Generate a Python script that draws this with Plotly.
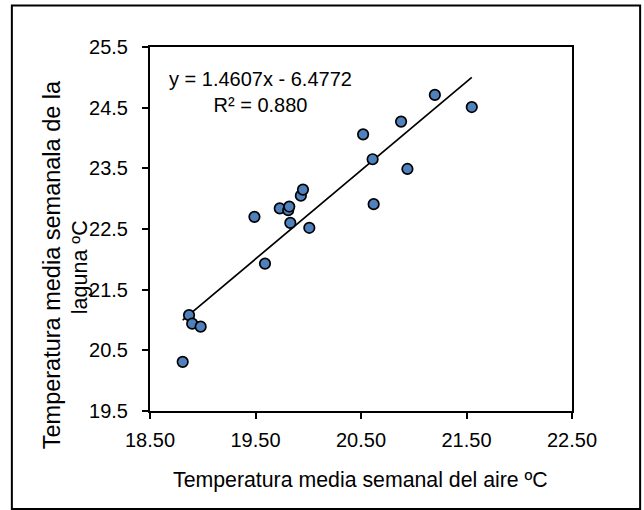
import plotly.graph_objects as go

# Data
air_temp = [18.81, 18.87, 18.90, 18.98, 19.59, 19.49, 19.73, 19.81, 19.82, 19.83,
            19.93, 19.95, 20.01, 20.52, 20.61, 20.62, 20.88, 21.20, 21.55, 20.94]
lagoon_temp = [20.31, 21.08, 20.94, 20.89, 21.93, 22.70, 22.84, 22.81, 22.87, 22.60,
               23.05, 23.15, 22.52, 24.06, 23.65, 22.91, 24.27, 24.71, 24.51, 23.49]
slope = 1.4607
intercept = -6.4772
r2_text = "R² = 0.880"
x_tickvals = [18.5, 19.5, 20.5, 21.5, 22.5]
x_ticktext = ["18.50", "19.50", "20.50", "21.50", "22.50"]
y_tickvals = [19.5, 20.5, 21.5, 22.5, 23.5, 24.5, 25.5]
y_ticktext = ["19.5", "20.5", "21.5", "22.5", "23.5", "24.5", "25.5"]

FONT = "Arial, Liberation Sans, sans-serif"
FS = 20

xmin, xmax = min(air_temp), max(air_temp)
trend_x = [xmin, xmax]
trend_y = [slope * v + intercept for v in trend_x]

fig = go.Figure()
fig.add_trace(go.Scatter(x=trend_x, y=trend_y, mode="lines",
                         line=dict(color="black", width=1.7), showlegend=False,
                         hoverinfo="skip"))
fig.add_trace(go.Scatter(x=air_temp, y=lagoon_temp, mode="markers",
                         marker=dict(size=10.5, color="#4F81BD",
                                     line=dict(color="black", width=1.7)),
                         showlegend=False))

W, H = 644, 510
L, R, T, B = 150, 572.5, 47.1, 410.7
pw, ph = R - L, B - T

def px_to_paper_x(px):
    return (px - L) / pw

def px_to_paper_y(py):
    return (B - py) / ph

axis_common = dict(showgrid=False, zeroline=False, showline=True, linecolor="black",
                   linewidth=2, mirror=True, ticks="outside", ticklen=6,
                   tickwidth=1.5, tickcolor="black", tickfont=dict(size=FS))

fig.update_layout(
    width=W, height=H,
    margin=dict(l=L, r=W - R, t=T, b=H - B, pad=0),
    paper_bgcolor="white", plot_bgcolor="white",
    font=dict(family=FONT, size=FS, color="black"),
    xaxis=dict(range=[18.5, 22.5], tickvals=x_tickvals, ticktext=x_ticktext,
               ticklabelstandoff=4, **axis_common),
    yaxis=dict(range=[19.5, 25.5], tickvals=y_tickvals, ticktext=y_ticktext,
               ticklabelstandoff=10, **axis_common),
    shapes=[dict(type="rect", xref="paper", yref="paper",
                 x0=px_to_paper_x(11.7), x1=px_to_paper_x(640.7),
                 y0=px_to_paper_y(508.5), y1=px_to_paper_y(5.7),
                 line=dict(color="black", width=2), fillcolor="rgba(0,0,0,0)")],
    annotations=[
        dict(text=f"y = {slope}x - {abs(intercept)}<br>{r2_text}", xref="paper", yref="paper",
             x=px_to_paper_x(261), y=px_to_paper_y(92), xanchor="center", yanchor="middle",
             showarrow=False, align="center", font=dict(size=FS)),
        dict(text="Temperatura media semanal del aire ºC", xref="paper", yref="paper",
             x=px_to_paper_x(550), y=px_to_paper_y(480), xanchor="right", yanchor="middle",
             showarrow=False, font=dict(size=21.3)),
        dict(text="Temperatura media semanala de la", xref="paper", yref="paper",
             x=px_to_paper_x(52), y=px_to_paper_y(265), xanchor="center", yanchor="middle",
             textangle=-90, showarrow=False, font=dict(size=23.5)),
        dict(text="laguna ºC", xref="paper", yref="paper",
             x=px_to_paper_x(80), y=px_to_paper_y(267), xanchor="center", yanchor="middle",
             textangle=-90, showarrow=False, font=dict(size=21.5)),
    ],
)

fig.write_html("out.html", config={"displayModeBar": False},
               post_script="document.body.style.margin='0';")
